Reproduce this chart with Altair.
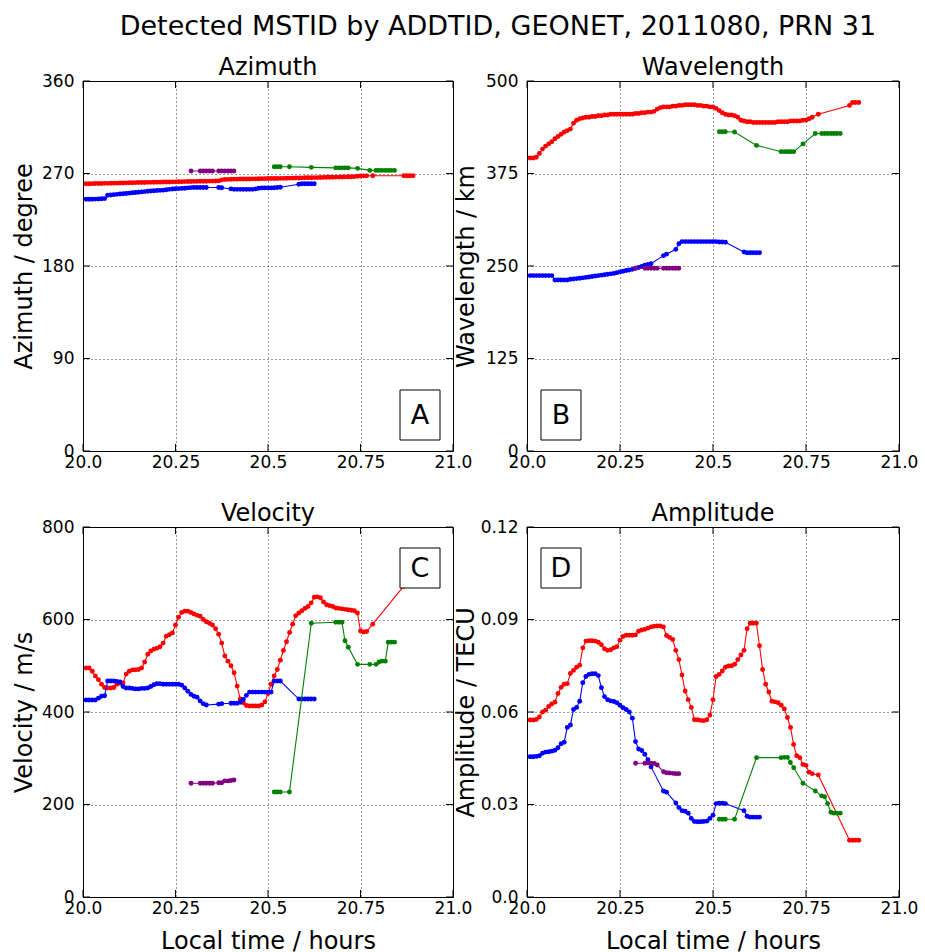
import altair as alt
import pandas as pd

FONT = "DejaVu Sans"

# ---------------- time samples (local time, hours; 30-s cadence) ----------------
red_k = list(range(1, 93))
red_t = [20 + k / 120 for k in red_k] + [20.783, 20.867, 20.875, 20.883, 20.892]
blue_k = list(range(1, 41)) + [44, 45] + list(range(48, 65)) + list(range(70, 76))
blue_t = [20 + k / 120 for k in blue_k]
purple_t = [20.292, 20.317, 20.325, 20.333, 20.342, 20.35, 20.367, 20.375, 20.383, 20.392, 20.4, 20.408]
green_t = [20.517, 20.525, 20.533, 20.558, 20.617, 20.683, 20.692, 20.7, 20.708, 20.717,
           20.742, 20.775, 20.792, 20.8, 20.808, 20.817, 20.825, 20.833, 20.842]

# ---------------- Azimuth (degree) ----------------
red_az = [260.0, 260.0, 260.1, 260.2, 260.2, 260.3, 260.4, 260.4, 260.5, 260.6, 260.6, 260.7,
          260.8, 260.9, 261.0, 261.0, 261.1, 261.2, 261.2, 261.3, 261.4, 261.4, 261.5, 261.6,
          261.6, 261.7, 261.7, 261.8, 261.9, 261.9, 262.0, 262.0, 262.1, 262.2, 262.2, 262.3,
          262.3, 262.4, 262.4, 262.5, 262.6, 262.6, 262.7, 262.8, 263.8, 264.2, 264.3, 264.4,
          264.5, 264.5, 264.6, 264.6, 264.7, 264.7, 264.8, 264.8, 264.9, 265.0, 265.0, 265.1,
          265.1, 265.2, 265.2, 265.3, 265.3, 265.4, 265.5, 265.5, 265.6, 265.6, 265.7, 265.8,
          265.8, 265.9, 266.0, 266.0, 266.1, 266.2, 266.3, 266.3, 266.4, 266.5, 266.5, 266.6,
          266.7, 266.8, 266.9, 267.0, 267.3, 267.6, 267.7, 267.7,
          267.8, 267.8, 267.8, 267.8, 267.8]
blue_az = [245.0, 245.0, 245.0, 245.1, 245.2, 245.4, 245.6, 248.8, 249.1, 249.4,
           249.7, 250.0, 250.3, 250.6, 250.9, 251.2, 251.5, 251.8, 252.1, 252.4,
           252.7, 253.0, 253.2, 253.4, 253.6, 253.8, 254.2, 254.6, 254.9, 255.1,
           255.3, 255.5, 255.7, 256.0, 256.3, 256.4, 256.4, 256.4, 256.4, 256.4,
           256.4, 256.2,
           255.0, 254.6, 254.6, 254.6, 254.6, 254.6, 254.6, 254.6, 255.0, 255.6,
           256.0, 256.0, 256.0, 256.0, 256.2, 256.4, 256.6,
           259.6, 260.0, 260.0, 260.0, 260.0, 260.0]
purple_az = [272.5] * 12
green_az = [276.6, 276.6, 276.6, 276.6, 276.0, 275.5, 275.5, 275.5, 275.5, 275.5,
            275.0, 273.0, 273.0, 273.0, 273.0, 273.0, 273.0, 273.0, 273.0]

# ---------------- Wavelength (km) ----------------
red_wl = [396, 396, 397, 402, 408, 412, 415, 418, 422, 425, 428, 431,
          433, 435, 443, 447, 449, 450, 451, 451, 452, 452, 453, 453,
          454, 454, 455, 455, 455, 455, 455, 455, 455, 455, 456, 456,
          457, 457, 458, 458, 459, 462, 464, 465, 465, 465, 466, 466,
          467, 467, 468, 468, 468, 468, 467, 467, 466, 466, 465, 465,
          463, 460, 457, 455, 454, 454, 453, 451, 447, 446, 445, 445,
          444, 444, 444, 444, 444, 444, 444, 444, 445, 445, 445, 445,
          446, 446, 446, 446, 447, 447, 449, 451,
          455, 467, 471, 471, 471]
blue_wl = [237, 237, 237, 237, 237, 237, 237, 237, 231, 231,
           231, 231, 231, 232, 232.5, 233, 233.5, 234, 234.6, 235.2,
           235.8, 236.4, 237, 237.6, 238.2, 238.8, 239.4, 240, 241, 242,
           243, 244, 244.5, 245.5, 247, 248, 249.5, 251, 252, 253,
           264, 266,
           272.5, 280, 283, 283, 283, 283, 283, 283, 283, 283,
           283, 283, 283, 283, 282.5, 282.5, 282,
           269, 268, 268, 268, 268, 268]
purple_wl = [247] * 12
green_wl = [431.5, 431.5, 431.5, 431, 413, 404.5, 404.5, 404.5, 404.5, 404.5,
            415, 429, 429, 429, 429, 429, 429, 429, 429]

# ---------------- Velocity (m/s) ----------------
red_vel = [495, 495, 488, 478, 470, 460, 453, 452, 452, 453, 460, 462,
           463, 482, 488, 491, 491, 492, 495, 508, 525, 532, 536, 538,
           541, 549, 564, 567, 571, 588, 605, 615, 618, 618, 615, 612,
           609, 607, 600, 595, 592, 588, 580, 568, 549, 521, 510, 500,
           485, 456, 428, 420, 414, 413, 413, 413, 413, 415, 422, 440,
           460, 478, 492, 512, 533, 552, 572, 590, 608, 614, 619, 624,
           628, 636, 648, 649, 647, 638, 632, 630, 628, 625, 624, 623,
           622, 621, 620, 619, 614, 575, 573, 574,
           590, 672, 677, 682, 687]
blue_vel = [426, 426, 426, 426, 430, 434, 435, 467, 467, 467,
            466, 465, 455, 452, 452, 451, 450, 450, 451, 451,
            452, 455, 459, 461, 461, 460, 460, 460, 460, 460,
            460, 458, 452, 445, 438, 434, 432, 424, 418, 415,
            417, 418,
            419, 419, 419, 421, 427, 436, 443, 443, 443, 443,
            443, 443, 443, 443, 467, 467, 467,
            428, 428, 428, 428, 428, 428]
purple_vel = [246, 246, 246, 246, 246, 246, 247, 247, 251, 251, 252, 253]
green_vel = [227, 227, 227, 227, 592, 594, 594, 594, 554, 540,
             503, 503, 503, 508, 510, 510, 551, 551, 551]

# ---------------- Amplitude (TECU) ----------------
red_amp = [0.0574, 0.0574, 0.0576, 0.0584, 0.0600, 0.0606, 0.0618, 0.0626, 0.0632, 0.0660, 0.0680, 0.0690,
           0.0692, 0.0725, 0.0735, 0.0745, 0.0752, 0.0808, 0.0830, 0.0831, 0.0831, 0.0830, 0.0826, 0.0818,
           0.0805, 0.0800, 0.0802, 0.0808, 0.0812, 0.0833, 0.0845, 0.0849, 0.0849, 0.0849, 0.0850, 0.0862,
           0.0866, 0.0868, 0.0872, 0.0876, 0.0878, 0.0879, 0.0879, 0.0876, 0.0848, 0.0842, 0.0835, 0.0800,
           0.0770, 0.0720, 0.0668, 0.0640, 0.0615, 0.0575, 0.0575, 0.0573, 0.0572, 0.0575, 0.0590, 0.0640,
           0.0715, 0.0722, 0.0733, 0.0745, 0.0749, 0.0750, 0.0755, 0.0770, 0.0785, 0.0800, 0.0870, 0.0888,
           0.0888, 0.0888, 0.0815, 0.0738, 0.0690, 0.0665, 0.0635, 0.0633, 0.0630, 0.0622, 0.0610, 0.0582,
           0.0550, 0.0495, 0.0458, 0.0452, 0.0430, 0.0427, 0.0405, 0.0400,
           0.0396, 0.0184, 0.0184, 0.0184, 0.0184]
blue_amp = [0.0455, 0.0455, 0.0456, 0.0458, 0.0466, 0.0470, 0.0471, 0.0473, 0.0476, 0.0484,
            0.0497, 0.0502, 0.0550, 0.0558, 0.0608, 0.0615, 0.0635, 0.0695, 0.0715, 0.0722,
            0.0724, 0.0724, 0.0718, 0.0679, 0.0650, 0.0640, 0.0636, 0.0634, 0.0630, 0.0622,
            0.0614, 0.0608, 0.0600, 0.0580, 0.0504, 0.0480, 0.0475, 0.0463, 0.0445, 0.0422,
            0.0344, 0.0340,
            0.0305, 0.0290, 0.0280, 0.0278, 0.0272, 0.0255, 0.0245, 0.0244, 0.0244, 0.0245,
            0.0246, 0.0255, 0.0265, 0.0303, 0.0304, 0.0304, 0.0303,
            0.0280, 0.0262, 0.0259, 0.0259, 0.0259, 0.0259]
purple_amp = [0.0434, 0.0434, 0.0435, 0.0434, 0.0433, 0.0428, 0.0406, 0.0403, 0.0402, 0.0401, 0.0400, 0.0400]
green_amp = [0.0252, 0.0252, 0.0252, 0.0252, 0.0452, 0.0452, 0.0453, 0.0453, 0.0436, 0.0419,
             0.0369, 0.0344, 0.0328, 0.0325, 0.0303, 0.0275, 0.0272, 0.0272, 0.0272]

# ---------------- axes ----------------
x_ticks = [20.0, 20.25, 20.5, 20.75, 21.0]
az_ticks = [0, 90, 180, 270, 360]
wl_ticks = [0, 125, 250, 375, 500]
vel_ticks = [0, 200, 400, 600, 800]
amp_ticks = [0.0, 0.03, 0.06, 0.09, 0.12]

COLORS = {"red": "#ff0000", "blue": "#0000ff", "purple": "#800080", "green": "#008000"}
XLAB = "(datum.value == 20 || datum.value == 21 || datum.value == 20.5) ? format(datum.value, '.1f') : format(datum.value, '.2f')"
PH = 370
TICK = 7


def panel(series, title, ytitle, ydom, yticks, letter, box, width, xtitle=None, ylabexpr=None, ytx=-61):
    xkw = dict(values=x_ticks, labelExpr=XLAB, labelFlush=False, labelOverlap=False, labelPadding=3)
    if xtitle:
        xkw.update(title=xtitle, titleY=44, titleBaseline="middle")
    else:
        xkw.update(title="")
    ykw = dict(values=yticks, labelFlush=False, labelOverlap=False, labelPadding=9,
               title=ytitle, titleX=ytx, titleBaseline="middle")
    if ylabexpr:
        ykw.update(labelExpr=ylabexpr)
    X = alt.X("t:Q", scale=alt.Scale(domain=[20, 21], nice=False, zero=False), axis=alt.Axis(**xkw))
    Y = alt.Y("v:Q", scale=alt.Scale(domain=ydom, nice=False, zero=False), axis=alt.Axis(**ykw))

    yt = pd.DataFrame({"v": yticks})
    xt = pd.DataFrame({"t": x_ticks})
    layers = [
        alt.Chart(yt).mark_rule(color="black", strokeWidth=1).encode(y=Y, x=alt.value(0), x2=alt.value(TICK)),
        alt.Chart(yt).mark_rule(color="black", strokeWidth=1).encode(y=Y, x=alt.value(width - TICK), x2=alt.value(width)),
        alt.Chart(xt).mark_rule(color="black", strokeWidth=1).encode(x=X, y=alt.value(0), y2=alt.value(TICK)),
        alt.Chart(xt).mark_rule(color="black", strokeWidth=1).encode(x=X, y=alt.value(PH - TICK), y2=alt.value(PH)),
    ]
    for name, ts, vs in series:
        df = pd.DataFrame({"t": ts, "v": vs})
        c = COLORS[name]
        layers.append(alt.Chart(df).mark_line(color=c, strokeWidth=1.1).encode(x=X, y=Y))
        layers.append(alt.Chart(df).mark_circle(color=c, size=24, opacity=1).encode(x=X, y=Y))
    bx0, by0, bx1, by1 = box
    lab = pd.DataFrame({"lab": [letter]})
    layers.append(alt.Chart(lab).mark_rect(fill="white", stroke="black", strokeWidth=1).encode(
        x=alt.value(bx0), x2=alt.value(bx1), y=alt.value(by0), y2=alt.value(by1)))
    layers.append(alt.Chart(lab).mark_text(font=FONT, fontSize=27, color="black", align="center", baseline="middle").encode(
        x=alt.value((bx0 + bx1) / 2), y=alt.value((by0 + by1) / 2 + 1), text="lab:N"))
    return alt.layer(*layers).properties(
        width=width, height=PH,
        title=alt.TitleParams(title, font=FONT, fontSize=24, fontWeight="normal", color="black",
                              offset=-8, frame="group"),
    )


A = panel([("red", red_t, red_az), ("blue", blue_t, blue_az), ("purple", purple_t, purple_az), ("green", green_t, green_az)],
          "Azimuth", "Azimuth / degree", [0, 360], az_ticks, "A", (317, 309, 357, 359), 370, ytx=-59)
B = panel([("red", red_t, red_wl), ("blue", blue_t, blue_wl), ("purple", purple_t, purple_wl), ("green", green_t, green_wl)],
          "Wavelength", "Wavelength / km", [0, 500], wl_ticks, "B", (14, 309, 54, 359), 372, ytx=-61)
C = panel([("red", red_t, red_vel), ("blue", blue_t, blue_vel), ("purple", purple_t, purple_vel), ("green", green_t, green_vel)],
          "Velocity", "Velocity / m/s", [0, 800], vel_ticks, "C", (317, 21, 357, 61), 370,
          xtitle="Local time / hours", ytx=-59)
D = panel([("red", red_t, red_amp), ("blue", blue_t, blue_amp), ("purple", purple_t, purple_amp), ("green", green_t, green_amp)],
          "Amplitude", "Amplitude / TECU", [0, 0.12], amp_ticks, "D", (14, 21, 54, 61), 372,
          xtitle="Local time / hours",
          ylabexpr="datum.value == 0 ? '0.0' : format(datum.value, '.2f')", ytx=-61)

chart = alt.concat(A, B, C, D, columns=2, spacing=alt.RowColnumber(column=74, row=76), bounds="flush").properties(
    title=alt.TitleParams("Detected MSTID by ADDTID, GEONET, 2011080, PRN 31", font=FONT, fontSize=27,
                          fontWeight="normal", color="black", anchor="middle", offset=15, dx=33),
    padding={"left": 11, "top": 12, "right": 5, "bottom": 5},
).configure(font=FONT).configure_view(stroke="black", strokeWidth=1).configure_axis(
    grid=True, gridColor="black", gridDash=[1, 3], gridWidth=0.8, gridOpacity=1,
    domain=False, ticks=False, labelFont=FONT, labelFontSize=17, labelColor="black",
    titleFont=FONT, titleFontSize=24, titleFontWeight="normal", titleColor="black",
)

chart.save("out.html", embed_options={"renderer": "svg", "actions": False})
